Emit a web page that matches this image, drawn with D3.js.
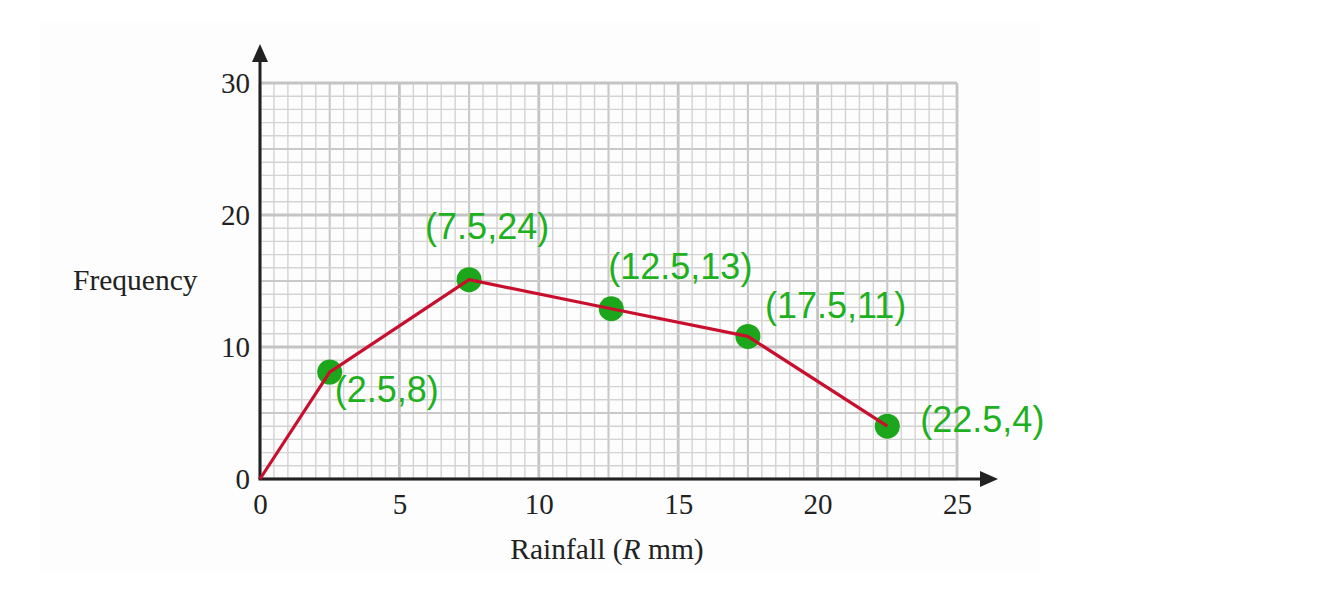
<!DOCTYPE html>
<html>
<head>
<meta charset="utf-8">
<script src="https://cdn.jsdelivr.net/npm/d3@7"></script>
<style>
  body { margin: 0; background: #ffffff; }
</style>
</head>
<body>
<div id="container"></div>
<script>
// frequency polygon: rainfall midpoints vs frequency
let rainfall = [0, 2.5, 7.5, 12.6, 17.5, 22.5];
let frequency = [0, 8.1, 15.1, 12.9, 10.8, 4];
// annotation text for each plotted point (first point has no dot)
let pointLabels = ["", "(2.5,8)", "(7.5,24)", "(12.5,13)", "(17.5,11)", "(22.5,4)"];

let xTicks = [0, 5, 10, 15, 20, 25];
let yTicks = [0, 10, 20, 30];

let w = 1323;
let h = 603;

let viz = d3.select("#container")
  .append("svg")
  .attr("width", w)
  .attr("height", h)
  .style("background-color", "white");

// faint page panel behind the figure
viz.append("rect")
  .attr("x", 40).attr("y", 23)
  .attr("width", 1000).attr("height", 550)
  .attr("fill", "#fdfdfd");

let xScale = d3.scaleLinear().domain([0, 25]).range([260, 957]);
let yScale = d3.scaleLinear().domain([0, 30]).range([479, 83]);

// graph paper grid
let gridGroup = viz.append("g").attr("class", "grid");

function lineWidth(v, medium, major) {
  if (v % major == 0) return 2.8;
  if (v % medium == 0) return 2.1;
  return 1.4;
}
function lineColor(v, medium, major) {
  if (v % major == 0) return "#c4c4c4";
  if (v % medium == 0) return "#c9c9c9";
  return "#d3d3d3";
}

gridGroup.selectAll(".vline")
  .data(xScale.ticks(50))
  .enter()
  .append("line")
  .attr("class", "vline")
  .attr("x1", d => xScale(d))
  .attr("x2", d => xScale(d))
  .attr("y1", yScale(0))
  .attr("y2", yScale(30))
  .attr("stroke", d => lineColor(d, 2.5, 5))
  .attr("stroke-width", d => lineWidth(d, 2.5, 5));

gridGroup.selectAll(".hline")
  .data(yScale.ticks(30))
  .enter()
  .append("line")
  .attr("class", "hline")
  .attr("x1", xScale(0))
  .attr("x2", xScale(25))
  .attr("y1", d => yScale(d))
  .attr("y2", d => yScale(d))
  .attr("stroke", d => lineColor(d, 5, 10))
  .attr("stroke-width", d => lineWidth(d, 5, 10));

// axes with arrows
let axisGroup = viz.append("g").attr("class", "axes");
axisGroup.append("line")
  .attr("x1", xScale(0)).attr("y1", yScale(0))
  .attr("x2", xScale(0)).attr("y2", 58)
  .attr("stroke", "#222").attr("stroke-width", 3);
axisGroup.append("path")
  .attr("d", "M" + xScale(0) + ",44 l-8,18 l16,0 z")
  .attr("fill", "#222");
axisGroup.append("line")
  .attr("x1", xScale(0) - 1.5).attr("y1", yScale(0))
  .attr("x2", 982).attr("y2", yScale(0))
  .attr("stroke", "#222").attr("stroke-width", 3);
axisGroup.append("path")
  .attr("d", "M998," + yScale(0) + " l-18,-8 l0,16 z")
  .attr("fill", "#222");

// tick labels
let xAxis = d3.axisBottom(xScale).tickValues(xTicks).tickSize(0).tickPadding(14);
let xAxisGroup = viz.append("g")
  .attr("class", "xaxis")
  .attr("transform", "translate(0," + yScale(0) + ")")
  .call(xAxis);

let yAxis = d3.axisLeft(yScale).tickValues(yTicks).tickSize(0).tickPadding(10);
let yAxisGroup = viz.append("g")
  .attr("class", "yaxis")
  .attr("transform", "translate(" + xScale(0) + ",0)")
  .call(yAxis);

viz.selectAll(".xaxis .domain, .yaxis .domain").remove();
viz.selectAll(".xaxis text, .yaxis text")
  .attr("font-family", "'Liberation Serif', 'Times New Roman', serif")
  .attr("font-size", 29)
  .attr("fill", "#222");

// axis titles
viz.append("text")
  .attr("x", 73)
  .attr("y", 290)
  .attr("font-family", "'Liberation Serif', 'Times New Roman', serif")
  .attr("font-size", 29.5)
  .attr("fill", "#222")
  .text("Frequency");

let xTitle = viz.append("text")
  .attr("x", 607)
  .attr("y", 559)
  .attr("text-anchor", "middle")
  .attr("font-family", "'Liberation Serif', 'Times New Roman', serif")
  .attr("font-size", 29.5)
  .attr("fill", "#222");
xTitle.append("tspan").text("Rainfall (");
xTitle.append("tspan").attr("font-style", "italic").text("R");
xTitle.append("tspan").text(" mm)");

// points and polygon line
let points = rainfall.map((d, i) => ({ x: d, y: frequency[i], label: pointLabels[i] }));

viz.selectAll(".dot")
  .data(points.filter(d => d.label != ""))
  .enter()
  .append("circle")
  .attr("class", "dot")
  .attr("cx", d => xScale(d.x))
  .attr("cy", d => yScale(d.y))
  .attr("r", 12.5)
  .attr("fill", "#1ba61b");

let line = d3.line().x(d => xScale(d.x)).y(d => yScale(d.y));
viz.append("path")
  .datum(points)
  .attr("d", line)
  .attr("fill", "none")
  .attr("stroke", "#c8102e")
  .attr("stroke-width", 3.2)
  .attr("stroke-linejoin", "round");

// label nudges (pixels) relative to each point, matching the original placement
let labelNudge = [[0, 0], [5, 30], [-44, -41], [-3, -30], [17, -18], [33, 6]];

viz.selectAll(".plabel")
  .data(points)
  .enter()
  .append("text")
  .attr("class", "plabel")
  .attr("x", (d, i) => xScale(d.x) + labelNudge[i][0])
  .attr("y", (d, i) => yScale(d.y) + labelNudge[i][1])
  .attr("font-family", "'Liberation Sans', Arial, sans-serif")
  .attr("font-size", 36)
  .attr("fill", "#1fb01f")
  .text(d => d.label);
</script>
</body>
</html>
